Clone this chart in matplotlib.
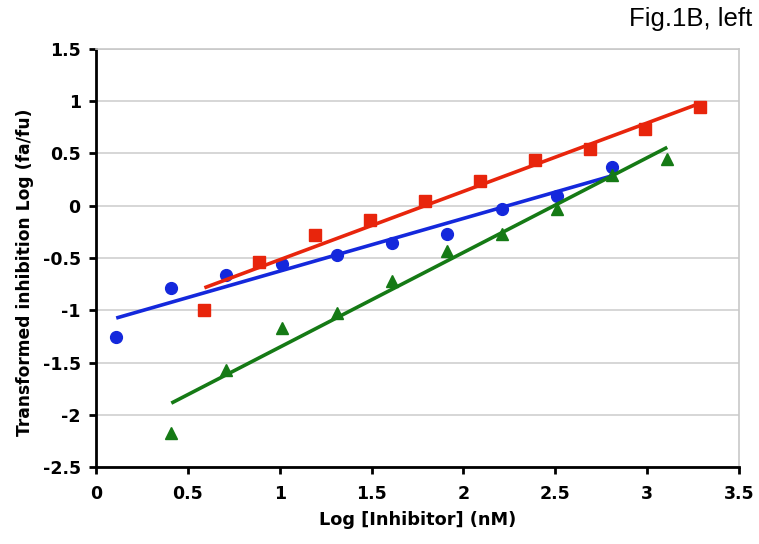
import matplotlib
matplotlib.use("Agg")
import matplotlib.pyplot as plt
import numpy as np

# Data
blue_x = [0.11, 0.41, 0.71, 1.01, 1.31, 1.61, 1.91, 2.21, 2.51, 2.81]
blue_y = [-1.26, -0.79, -0.66, -0.56, -0.47, -0.36, -0.27, -0.03, 0.09, 0.37]

red_x = [0.59, 0.89, 1.19, 1.49, 1.79, 2.09, 2.39, 2.69, 2.99, 3.29]
red_y = [-1.00, -0.54, -0.28, -0.14, 0.05, 0.24, 0.44, 0.54, 0.73, 0.94]

green_x = [0.41, 0.71, 1.01, 1.31, 1.61, 1.91, 2.21, 2.51, 2.81, 3.11]
green_y = [-2.17, -1.57, -1.17, -1.03, -0.72, -0.43, -0.27, -0.03, 0.29, 0.45]

x_ticks = [0, 0.5, 1, 1.5, 2, 2.5, 3, 3.5]
x_ticklabels = ["0", "0.5", "1", "1.5", "2", "2.5", "3", "3.5"]
y_ticks = [-2.5, -2, -1.5, -1, -0.5, 0, 0.5, 1, 1.5]
y_ticklabels = ["-2.5", "-2", "-1.5", "-1", "-0.5", "0", "0.5", "1", "1.5"]

series = [
    (blue_x, blue_y, "#1428dc", "o", 8.5),
    (red_x, red_y, "#e8250c", "s", 8.0),
    (green_x, green_y, "#157a15", "^", 8.5),
]

fig = plt.figure(figsize=(7.59, 5.44), dpi=100)
ax = fig.add_axes([0.1265, 0.1415, 0.847, 0.7685])

for xs, ys, c, m, ms in series:
    xs = np.array(xs); ys = np.array(ys)
    k, b = np.polyfit(xs, ys, 1)
    ax.plot(xs, ys, linestyle="none", marker=m, color=c, markersize=ms, zorder=3)
    xl = np.array([xs.min(), xs.max()])
    ax.plot(xl, k * xl + b, color=c, linewidth=2.6, solid_capstyle="butt", zorder=4)

ax.set_xlim(0, 3.5)
ax.set_ylim(-2.5, 1.5)
ax.set_xticks(x_ticks)
ax.set_xticklabels(x_ticklabels)
ax.set_yticks(y_ticks)
ax.set_yticklabels(y_ticklabels)
ax.yaxis.grid(True, color="#d0d0d0", linewidth=1.2)
ax.set_axisbelow(True)

for s in ["left", "bottom"]:
    ax.spines[s].set_color("black")
    ax.spines[s].set_linewidth(2.0)
for s in ["top", "right"]:
    ax.spines[s].set_color("#c8c8c8")
    ax.spines[s].set_linewidth(1.2)

ax.tick_params(axis="both", direction="out", length=5, width=2, color="black",
               labelsize=12.5)
ax.tick_params(axis="y", pad=6)
ax.tick_params(axis="x", pad=8)
for lab in ax.get_xticklabels() + ax.get_yticklabels():
    lab.set_fontweight("bold")
    lab.set_family("DejaVu Sans")

ax.set_xlabel("Log [Inhibitor] (nM)", fontsize=12.8, fontweight="bold", labelpad=6)
ax.set_ylabel("Transformed inhibition Log (fa/fu)", fontsize=12.3, fontweight="bold", labelpad=6)
ax.yaxis.label.set_y(0.465)

fig.text(0.991, 0.965, "Fig.1B, left", ha="right", va="center", fontsize=18.5,
         family="Liberation Sans")

fig.savefig("out.png", dpi=100)
